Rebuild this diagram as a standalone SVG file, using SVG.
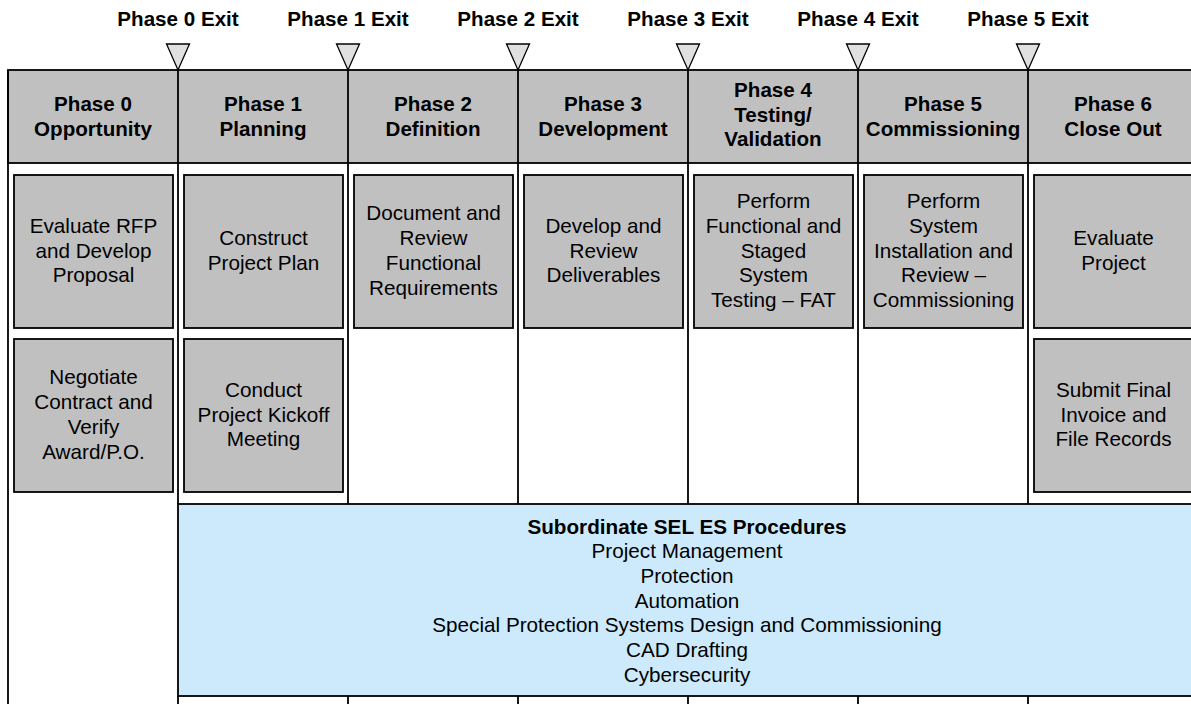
<svg xmlns="http://www.w3.org/2000/svg" width="1191" height="704" viewBox="0 0 1191 704">
  <style>
    .hdr { fill: #c0c0c0; stroke: #000; stroke-width: 1.8; }
    .task { fill: #c0c0c0; stroke: #000; stroke-width: 1.8; }
    .proc { fill: #cceafc; stroke: #000; stroke-width: 1.8; }
    .gate { fill: #e0e0e0; stroke: #000; stroke-width: 1.3; stroke-linejoin: miter; }
    .rule { stroke: #000; stroke-width: 1.8; fill: none; }
    .exit { font-family: "Liberation Sans", Arial, sans-serif; font-weight: bold; font-size: 20.6px; fill: #000; text-anchor: middle; }
    .ph { font-family: "Liberation Sans", Arial, sans-serif; font-weight: bold; font-size: 20.6px; fill: #000; text-anchor: middle; }
    .tx { font-family: "Liberation Sans", Arial, sans-serif; font-size: 20.7px; fill: #000; text-anchor: middle; }
    .tb { font-family: "Liberation Sans", Arial, sans-serif; font-weight: bold; font-size: 20.7px; fill: #000; text-anchor: middle; }
  </style>

  <rect x="0" y="0" width="1191" height="704" fill="#fff"/>

  <!-- phase header band -->
  <rect class="hdr" x="8" y="70" width="1200" height="93"/>

  <!-- procedures band -->
  <g id="procedures">
    <rect class="proc" x="178" y="504" width="1030" height="192"/>
    <text class="tb" x="687" y="533.5">Subordinate SEL ES Procedures</text>
    <text class="tx" x="687" y="558">Project Management</text>
    <text class="tx" x="687" y="582.8">Protection</text>
    <text class="tx" x="687" y="607.6">Automation</text>
    <text class="tx" x="687" y="632.4">Special Protection Systems Design and Commissioning</text>
    <text class="tx" x="687" y="657.2">CAD Drafting</text>
    <text class="tx" x="687" y="682">Cybersecurity</text>
  </g>

  <!-- column dividers and phase gates -->
  <g id="connectors">
    <line class="rule" x1="8" y1="70" x2="8" y2="704"/>
    <line class="rule" x1="178" y1="70" x2="178" y2="504"/>
    <line class="rule" x1="178" y1="696" x2="178" y2="704"/>
    <line class="rule" x1="348" y1="70" x2="348" y2="504"/>
    <line class="rule" x1="348" y1="696" x2="348" y2="704"/>
    <line class="rule" x1="518" y1="70" x2="518" y2="504"/>
    <line class="rule" x1="518" y1="696" x2="518" y2="704"/>
    <line class="rule" x1="688" y1="70" x2="688" y2="504"/>
    <line class="rule" x1="688" y1="696" x2="688" y2="704"/>
    <line class="rule" x1="858" y1="70" x2="858" y2="504"/>
    <line class="rule" x1="858" y1="696" x2="858" y2="704"/>
    <line class="rule" x1="1028" y1="70" x2="1028" y2="504"/>
    <line class="rule" x1="1028" y1="696" x2="1028" y2="704"/>
    <polygon class="gate" points="166.5,44 189.5,44 178,70"/>
    <polygon class="gate" points="336.5,44 359.5,44 348,70"/>
    <polygon class="gate" points="506.5,44 529.5,44 518,70"/>
    <polygon class="gate" points="676.5,44 699.5,44 688,70"/>
    <polygon class="gate" points="846.5,44 869.5,44 858,70"/>
    <polygon class="gate" points="1016.5,44 1039.5,44 1028,70"/>
  </g>

  <!-- exit gate labels -->
  <g id="exits">
    <text class="exit" x="178" y="26">Phase 0 Exit</text>
    <text class="exit" x="348" y="26">Phase 1 Exit</text>
    <text class="exit" x="518" y="26">Phase 2 Exit</text>
    <text class="exit" x="688" y="26">Phase 3 Exit</text>
    <text class="exit" x="858" y="26">Phase 4 Exit</text>
    <text class="exit" x="1028" y="26">Phase 5 Exit</text>
  </g>

  <!-- phase headings -->
  <g id="phase0"><text class="ph" x="93" y="111">Phase 0<tspan x="93" dy="24.5">Opportunity</tspan></text></g>
  <g id="phase1"><text class="ph" x="263" y="111">Phase 1<tspan x="263" dy="24.5">Planning</tspan></text></g>
  <g id="phase2"><text class="ph" x="433" y="111">Phase 2<tspan x="433" dy="24.5">Definition</tspan></text></g>
  <g id="phase3"><text class="ph" x="603" y="111">Phase 3<tspan x="603" dy="24.5">Development</tspan></text></g>
  <g id="phase4"><text class="ph" x="773" y="97">Phase 4<tspan x="773" dy="24.5">Testing/</tspan><tspan x="773" dy="24.5">Validation</tspan></text></g>
  <g id="phase5"><text class="ph" x="943" y="111">Phase 5<tspan x="943" dy="24.5">Commissioning</tspan></text></g>
  <g id="phase6"><text class="ph" x="1113" y="111">Phase 6<tspan x="1113" dy="24.5">Close Out</tspan></text></g>

  <!-- activity boxes -->
  <g id="evaluate-rfp">
    <rect class="task" x="14" y="175" width="159" height="153"/>
    <text class="tx" x="93.5" y="232.7">Evaluate RFP<tspan x="93.5" dy="24.8">and Develop</tspan><tspan x="93.5" dy="24.8">Proposal</tspan></text>
  </g>
  <g id="negotiate-contract">
    <rect class="task" x="14" y="339" width="159" height="153"/>
    <text class="tx" x="93.5" y="384.3">Negotiate<tspan x="93.5" dy="24.8">Contract and</tspan><tspan x="93.5" dy="24.8">Verify</tspan><tspan x="93.5" dy="24.8">Award/P.O.</tspan></text>
  </g>
  <g id="construct-plan">
    <rect class="task" x="184" y="175" width="159" height="153"/>
    <text class="tx" x="263.5" y="245.1">Construct<tspan x="263.5" dy="24.8">Project Plan</tspan></text>
  </g>
  <g id="kickoff-meeting">
    <rect class="task" x="184" y="339" width="159" height="153"/>
    <text class="tx" x="263.5" y="396.7">Conduct<tspan x="263.5" dy="24.8">Project Kickoff</tspan><tspan x="263.5" dy="24.8">Meeting</tspan></text>
  </g>
  <g id="functional-requirements">
    <rect class="task" x="354" y="175" width="159" height="153"/>
    <text class="tx" x="433.5" y="220.3">Document and<tspan x="433.5" dy="24.8">Review</tspan><tspan x="433.5" dy="24.8">Functional</tspan><tspan x="433.5" dy="24.8">Requirements</tspan></text>
  </g>
  <g id="deliverables">
    <rect class="task" x="524" y="175" width="159" height="153"/>
    <text class="tx" x="603.5" y="232.7">Develop and<tspan x="603.5" dy="24.8">Review</tspan><tspan x="603.5" dy="24.8">Deliverables</tspan></text>
  </g>
  <g id="system-testing">
    <rect class="task" x="694" y="175" width="159" height="153"/>
    <text class="tx" x="773.5" y="207.9">Perform<tspan x="773.5" dy="24.8">Functional and</tspan><tspan x="773.5" dy="24.8">Staged</tspan><tspan x="773.5" dy="24.8">System</tspan><tspan x="773.5" dy="24.8">Testing – FAT</tspan></text>
  </g>
  <g id="installation">
    <rect class="task" x="864" y="175" width="159" height="153"/>
    <text class="tx" x="943.5" y="207.9">Perform<tspan x="943.5" dy="24.8">System</tspan><tspan x="943.5" dy="24.8">Installation and</tspan><tspan x="943.5" dy="24.8">Review –</tspan><tspan x="943.5" dy="24.8">Commissioning</tspan></text>
  </g>
  <g id="evaluate-project">
    <rect class="task" x="1034" y="175" width="159" height="153"/>
    <text class="tx" x="1113.5" y="245.1">Evaluate<tspan x="1113.5" dy="24.8">Project</tspan></text>
  </g>
  <g id="final-invoice">
    <rect class="task" x="1034" y="339" width="159" height="153"/>
    <text class="tx" x="1113.5" y="396.7">Submit Final<tspan x="1113.5" dy="24.8">Invoice and</tspan><tspan x="1113.5" dy="24.8">File Records</tspan></text>
  </g>
</svg>
